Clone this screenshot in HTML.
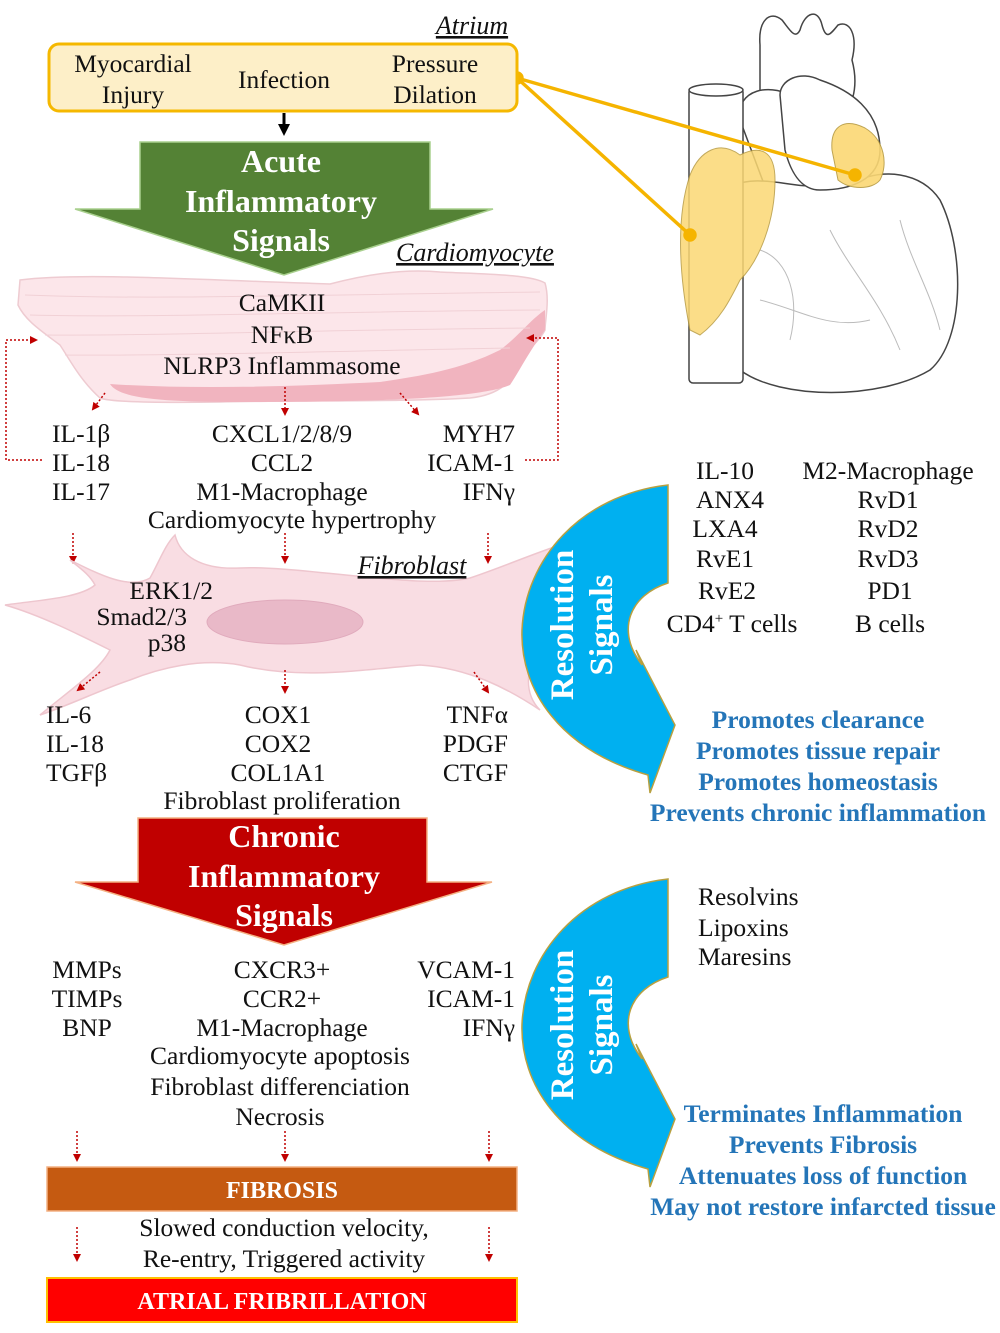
<!DOCTYPE html>
<html><head><meta charset="utf-8"><style>
html,body{margin:0;padding:0;background:#fff}
svg{display:block}
text{font-family:"Liberation Serif",serif;fill:#111}
.c{text-anchor:middle}.r{text-anchor:end}
.t{font-size:25.5px}
.w{fill:#fff;font-weight:bold}
.b{fill:#2475b8;font-weight:bold;font-size:25.5px;text-anchor:middle}
.it{font-style:italic;font-size:26px;text-decoration:underline}
</style></head><body>
<svg width="1000" height="1333" viewBox="0 0 1000 1333" xmlns="http://www.w3.org/2000/svg">
<defs>
<marker id="ar" markerWidth="8" markerHeight="8" refX="6" refY="4" orient="auto" markerUnits="userSpaceOnUse"><path d="M0,0 L8,4 L0,8Z" fill="#c00000"/></marker>
<marker id="ak" markerWidth="12" markerHeight="12" refX="8" refY="6" orient="auto" markerUnits="userSpaceOnUse"><path d="M0,0 L12,6 L0,12Z" fill="#000"/></marker>
</defs>

<!-- Heart -->
<g stroke="#444" stroke-width="1.5" fill="#fff">
<path d="M760,45 C758,20 770,10 782,20 C790,30 795,40 800,30 C805,12 818,8 822,25 C826,40 830,35 838,25 C850,20 858,35 852,60 C860,90 850,110 840,120 L760,150 Z"/>
<path d="M740,120 C735,90 770,80 800,100 C830,115 840,160 835,185 L770,200 Z"/>
<path d="M720,190 C700,240 705,330 740,370 C780,400 880,400 930,370 C965,340 965,250 940,200 C920,170 880,170 860,180 L820,185 C790,190 760,170 720,190Z"/>
<rect x="689" y="88" width="54" height="295" rx="4"/>
<ellipse cx="716" cy="90" rx="27" ry="6"/>
<path d="M780,95 C780,80 800,70 820,80 C850,90 880,110 880,150 C880,180 850,190 820,190 C800,190 790,170 785,150 Z"/>
</g>
<g fill="none" stroke="#bbb" stroke-width="1">
<path d="M760,250 C790,260 800,300 790,340"/><path d="M830,230 C850,270 880,300 900,350"/><path d="M760,300 C800,310 830,330 870,320"/><path d="M900,220 C910,260 930,290 940,330"/>
</g>
<path d="M690,330 C680,280 675,220 690,175 C700,150 720,140 740,155 C760,145 775,150 775,180 C775,220 760,260 740,280 C730,300 720,320 700,335Z" fill="#fbd874" stroke="#b89b40" stroke-width="1" opacity="0.85"/>
<path d="M832,150 C830,125 845,118 865,128 C885,140 888,165 880,180 C872,190 850,190 838,180Z" fill="#fbd874" stroke="#b89b40" stroke-width="1" opacity="0.9"/>
<g stroke="#f5b400" stroke-width="3.5" fill="#f5b400">
<line x1="517" y1="78" x2="855" y2="175"/><line x1="517" y1="78" x2="690" y2="235"/>
<circle cx="517" cy="78" r="5"/><circle cx="855" cy="175" r="5"/><circle cx="690" cy="235" r="5"/>
</g>

<!-- Atrium box -->
<text x="472" y="34" class="it c">Atrium</text>
<rect x="49" y="44" width="468" height="67" rx="10" fill="#fdefc8" stroke="#f5b800" stroke-width="3"/>
<text x="133" y="72" class="t c">Myocardial</text><text x="133" y="103" class="t c">Injury</text>
<text x="284" y="88" class="t c">Infection</text>
<text x="435" y="72" class="t c">Pressure</text><text x="435" y="103" class="t c">Dilation</text>
<line x1="284" y1="113" x2="284" y2="132" stroke="#000" stroke-width="3" marker-end="url(#ak)"/>

<!-- Green arrow -->
<path d="M140,142 L430,142 L430,209 L493,209 L284,275 L75,209 L140,209Z" fill="#548235" stroke="#a9d08e" stroke-width="1.5"/>
<text x="281" y="172" class="w c" style="font-size:32px">Acute</text>
<text x="281" y="212" class="w c" style="font-size:32px">Inflammatory</text>
<text x="281" y="251" class="w c" style="font-size:32px">Signals</text>
<text x="475" y="261" class="it c">Cardiomyocyte</text>

<!-- Cardiomyocyte -->
<path d="M20,280 C80,272 200,280 330,284 C360,276 400,268 440,272 C480,274 530,274 545,283 C550,300 545,320 545,330 C540,340 528,350 520,360 C515,380 500,395 470,398 C400,402 300,400 220,402 C150,403 110,402 100,398 C80,380 70,360 60,345 C40,330 25,320 18,305Z" fill="#fce6ea" stroke="#eecbd1" stroke-width="1.5"/>
<path d="M110,384 C200,390 300,386 380,382 C420,376 460,370 500,350 C520,335 530,320 545,310 L545,330 C530,350 520,370 510,385 C480,398 380,402 250,402 C170,402 120,400 110,384Z" fill="#f1b4bf"/>
<g stroke="#f1d1d6" stroke-width="1" fill="none"><path d="M25,295 C150,300 300,295 540,292"/><path d="M30,315 C150,318 300,312 540,310"/><path d="M45,335 C150,336 300,330 530,328"/><path d="M65,355 C150,356 300,352 510,348"/></g>
<text x="282" y="311" class="t c">CaMKII</text>
<text x="282" y="343" class="t c">NFκB</text>
<text x="282" y="374" class="t c">NLRP3 Inflammasome</text>

<g stroke="#c00000" stroke-width="1.5" stroke-dasharray="2,2" fill="none">
<polyline points="42,460 6,460 6,340 36,340" marker-end="url(#ar)"/>
<polyline points="525,460 558,460 558,338 528,338" marker-end="url(#ar)"/>
<line x1="105" y1="393" x2="93" y2="409" marker-end="url(#ar)"/>
<line x1="285" y1="387" x2="285" y2="414" marker-end="url(#ar)"/>
<line x1="400" y1="393" x2="418" y2="414" marker-end="url(#ar)"/>
<line x1="73" y1="533" x2="73" y2="562" marker-end="url(#ar)"/>
<line x1="285" y1="533" x2="285" y2="562" marker-end="url(#ar)"/>
<line x1="488" y1="533" x2="488" y2="562" marker-end="url(#ar)"/>
</g>

<text x="52" y="442" class="t">IL-1β</text><text x="52" y="471" class="t">IL-18</text><text x="52" y="500" class="t">IL-17</text>
<text x="282" y="442" class="t c">CXCL1/2/8/9</text><text x="282" y="471" class="t c">CCL2</text><text x="282" y="500" class="t c">M1-Macrophage</text>
<text x="292" y="528" class="t c">Cardiomyocyte hypertrophy</text>
<text x="515" y="442" class="t r">MYH7</text><text x="515" y="471" class="t r">ICAM-1</text><text x="515" y="500" class="t r">IFNγ</text>

<!-- Fibroblast -->
<path d="M70,560 C100,575 130,590 150,578 C160,560 165,545 175,535 C180,555 200,570 240,568 C300,565 420,590 470,578 C500,568 530,555 560,545 C540,580 520,610 540,640 C530,660 520,690 540,710 C510,690 470,668 420,665 C360,670 300,680 240,665 C200,658 160,668 130,680 C100,690 70,705 40,715 C70,690 100,670 110,650 C80,635 40,615 5,605 C40,600 80,598 95,585 C90,575 80,568 70,560Z" fill="#f9dde3" stroke="#eec6ce" stroke-width="1.5"/>
<ellipse cx="285" cy="622" rx="78" ry="22" fill="#e9b9c8" stroke="#e0aabc"/>
<text x="412" y="574" class="it c">Fibroblast</text>
<text x="213" y="599" class="t r">ERK1/2</text><text x="187" y="625" class="t r">Smad2/3</text><text x="186" y="651" class="t r">p38</text>
<g stroke="#c00000" stroke-width="1.5" stroke-dasharray="2,2" fill="none">
<line x1="100" y1="672" x2="78" y2="690" marker-end="url(#ar)"/>
<line x1="285" y1="670" x2="285" y2="692" marker-end="url(#ar)"/>
<line x1="474" y1="672" x2="488" y2="692" marker-end="url(#ar)"/>
<line x1="77" y1="1131" x2="77" y2="1160" marker-end="url(#ar)"/>
<line x1="285" y1="1131" x2="285" y2="1160" marker-end="url(#ar)"/>
<line x1="489" y1="1131" x2="489" y2="1160" marker-end="url(#ar)"/>
<line x1="77" y1="1227" x2="77" y2="1260" marker-end="url(#ar)"/>
<line x1="489" y1="1227" x2="489" y2="1260" marker-end="url(#ar)"/>
</g>
<text x="46" y="723" class="t">IL-6</text><text x="46" y="752" class="t">IL-18</text><text x="46" y="781" class="t">TGFβ</text>
<text x="278" y="723" class="t c">COX1</text><text x="278" y="752" class="t c">COX2</text><text x="278" y="781" class="t c">COL1A1</text>
<text x="282" y="809" class="t c">Fibroblast proliferation</text>
<text x="508" y="723" class="t r">TNFα</text><text x="508" y="752" class="t r">PDGF</text><text x="508" y="781" class="t r">CTGF</text>

<!-- Red arrow -->
<path d="M138,818 L427,818 L427,882 L492,882 L284,945 L75,882 L138,882Z" fill="#c00000" stroke="#f4b183" stroke-width="1.5"/>
<text x="284" y="847" class="w c" style="font-size:32px">Chronic</text>
<text x="284" y="887" class="w c" style="font-size:32px">Inflammatory</text>
<text x="284" y="926" class="w c" style="font-size:32px">Signals</text>

<text x="87" y="978" class="t c">MMPs</text><text x="87" y="1007" class="t c">TIMPs</text><text x="87" y="1036" class="t c">BNP</text>
<text x="282" y="978" class="t c">CXCR3+</text><text x="282" y="1007" class="t c">CCR2+</text><text x="282" y="1036" class="t c">M1-Macrophage</text>
<text x="280" y="1064" class="t c">Cardiomyocyte apoptosis</text><text x="280" y="1095" class="t c">Fibroblast differenciation</text><text x="280" y="1125" class="t c">Necrosis</text>
<text x="515" y="978" class="t r">VCAM-1</text><text x="515" y="1007" class="t r">ICAM-1</text><text x="515" y="1036" class="t r">IFNγ</text>

<rect x="47" y="1167" width="470" height="44" fill="#c55a11" stroke="#f4b183" stroke-width="1.5"/>
<text x="282" y="1198" class="w c" style="font-size:24px">FIBROSIS</text>
<text x="284" y="1236" class="t c">Slowed conduction velocity,</text>
<text x="284" y="1267" class="t c">Re-entry, Triggered activity</text>
<rect x="47" y="1278" width="470" height="44" fill="#ff0000" stroke="#ffc000" stroke-width="2"/>
<text x="282" y="1309" class="w c" style="font-size:24px">ATRIAL FRIBRILLATION</text>

<!-- Resolution arrows -->
<path d="M668,485 L668,583 C630,595 615,630 642,665 L636,650 L675,725 L650,793 L648,775 C560,750 520,690 522,630 C525,560 580,495 668,485Z" fill="#00b0f0" stroke="#b8a040" stroke-width="1.5"/>
<path d="M668,879 L668,977 C630,989 615,1024 642,1059 L636,1044 L675,1119 L650,1187 L648,1169 C560,1144 520,1084 522,1024 C525,954 580,889 668,879Z" fill="#00b0f0" stroke="#b8a040" stroke-width="1.5"/>
<text transform="translate(573,625) rotate(-90)" class="w c" style="font-size:33px">Resolution</text>
<text transform="translate(612,625) rotate(-90)" class="w c" style="font-size:33px">Signals</text>
<text transform="translate(573,1025) rotate(-90)" class="w c" style="font-size:33px">Resolution</text>
<text transform="translate(612,1025) rotate(-90)" class="w c" style="font-size:33px">Signals</text>

<text x="725" y="479" class="t c">IL-10</text><text x="730" y="508" class="t c">ANX4</text><text x="725" y="537" class="t c">LXA4</text><text x="725" y="567" class="t c">RvE1</text><text x="727" y="599" class="t c">RvE2</text><text x="732" y="632" class="t c">CD4<tspan dy="-9" style="font-size:15px">+</tspan><tspan dy="9"> T cells</tspan></text>
<text x="888" y="479" class="t c">M2-Macrophage</text><text x="888" y="508" class="t c">RvD1</text><text x="888" y="537" class="t c">RvD2</text><text x="888" y="567" class="t c">RvD3</text><text x="890" y="599" class="t c">PD1</text><text x="890" y="632" class="t c">B cells</text>
<text x="818" y="728" class="b">Promotes clearance</text>
<text x="818" y="759" class="b">Promotes tissue repair</text>
<text x="818" y="790" class="b">Promotes homeostasis</text>
<text x="818" y="821" class="b">Prevents chronic inflammation</text>

<text x="698" y="905" class="t">Resolvins</text><text x="698" y="936" class="t">Lipoxins</text><text x="698" y="965" class="t">Maresins</text>
<text x="823" y="1122" class="b">Terminates Inflammation</text>
<text x="823" y="1153" class="b">Prevents Fibrosis</text>
<text x="823" y="1184" class="b">Attenuates loss of function</text>
<text x="823" y="1215" class="b">May not restore infarcted tissue</text>
</svg>
</body></html>
